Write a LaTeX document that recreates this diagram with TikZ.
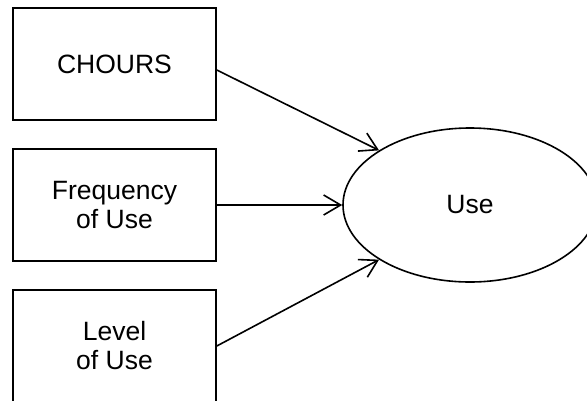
\documentclass[tikz,border=0pt]{standalone}
\usepackage{fontspec}
\setmainfont{Liberation Sans}
\usetikzlibrary{arrows.meta,shapes.geometric}
\begin{document}
\begin{tikzpicture}[x=1pt,y=-1pt,
  line width=1.6pt,
  every node/.style={font=\fontsize{26.5}{29}\selectfont, align=center},
  boxnode/.style={draw, rectangle, minimum width=203pt, minimum height=112pt, inner sep=0pt},
  ovalnode/.style={draw, ellipse, minimum width=254pt, minimum height=154pt, inner sep=0pt},
  conn/.style={-{Straight Barb[length=17pt,width=20pt,line width=1.6pt]}}]
\useasboundingbox (0,0) rectangle (587,400);
\node[boxnode] (b1) at (114.5,64) {CHOURS};
\node[boxnode] (b2) at (114.5,205) {Frequency\\of Use};
\node[boxnode] (b3) at (114.5,346) {Level\\of Use};
\node[ovalnode] (u) at (470,205) {Use};
\draw[conn] ([yshift=-6pt]b1.east) -- (u.149);
\draw[conn] (b2.east) -- (u.west);
\draw[conn] (b3.east) -- (u.211);
\end{tikzpicture}
\end{document}
